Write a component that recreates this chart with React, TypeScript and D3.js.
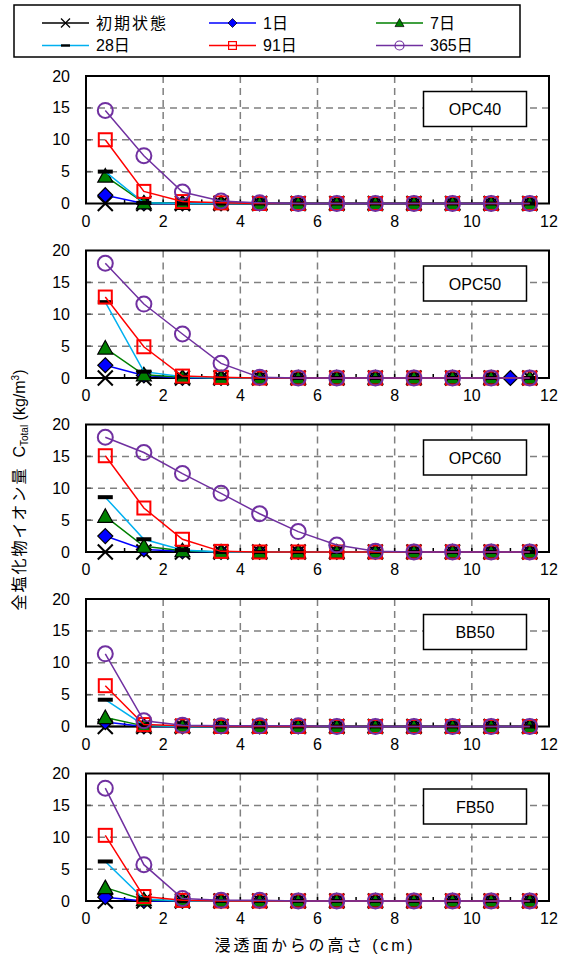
import React from "react";
import * as d3 from "d3";

// ---------- data ----------
const depths = [0.5, 1.5, 2.5, 3.5, 4.5, 5.5, 6.5, 7.5, 8.5, 9.5, 10.5, 11.5];
const seriesNames = ["初期状態", "1日", "7日", "28日", "91日", "365日"];
const panelNames = ["OPC40", "OPC50", "OPC60", "BB50", "FB50"];
const xTicks = [0, 2, 4, 6, 8, 10, 12];
const yTicks = [0, 5, 10, 15, 20];

// values per panel, per series (aligned to depths)
const opc40Initial = [0, 0, 0, 0, 0, 0, 0, 0, 0, 0, 0, 0];
const opc40Day1 = [1.3, 0, 0, 0, 0, 0, 0, 0, 0, 0, 0, 0];
const opc40Day7 = [4.3, 0.1, 0, 0, 0, 0, 0, 0, 0, 0, 0, 0];
const opc40Day28 = [5.0, 0.1, 0, 0, 0, 0, 0, 0, 0, 0, 0, 0];
const opc40Day91 = [10.0, 1.9, 0.3, 0.1, 0, 0, 0, 0, 0, 0, 0, 0];
const opc40Day365 = [14.6, 7.5, 1.8, 0.4, 0.1, 0, 0, 0, 0, 0, 0, 0];

const opc50Initial = [0, 0, 0, 0, 0, 0, 0, 0, 0, 0, 0, 0];
const opc50Day1 = [2.0, 0.4, 0, 0, 0, 0, 0, 0, 0, 0, 0, 0];
const opc50Day1X = [0.5, 1.5, 2.5, 3.5, 4.5, 5.5, 6.5, 7.5, 8.5, 9.5, 10.5, 11.0];
const opc50Day7 = [4.7, 0.5, 0.1, 0, 0, 0, 0, 0, 0, 0, 0, 0];
const opc50Day28 = [11.9, 1.0, 0.2, 0, 0, 0, 0, 0, 0, 0, 0, 0];
const opc50Day91 = [12.7, 4.9, 0.3, 0.1, 0, 0, 0, 0, 0, 0, 0, 0];
const opc50Day365 = [18.0, 11.6, 6.9, 2.3, 0.1, 0, 0, 0, 0, 0, 0, 0];

const opc60Initial = [0, 0, 0, 0, 0, 0, 0, 0, 0, 0, 0, 0];
const opc60Day1 = [2.5, 0.4, 0.1, 0, 0, 0, 0, 0, 0, 0, 0, 0];
const opc60Day7 = [5.6, 0.9, 0.2, 0, 0, 0, 0, 0, 0, 0, 0, 0];
const opc60Day28 = [8.6, 2.0, 0.3, 0, 0, 0, 0, 0, 0, 0, 0, 0];
const opc60Day91 = [15.1, 6.9, 2.0, 0.1, 0, 0, 0, 0, 0, 0, 0, 0];
const opc60Day365 = [18.0, 15.6, 12.3, 9.2, 6.0, 3.2, 1.1, 0.1, 0, 0, 0, 0];

const bb50Initial = [0, 0, 0, 0, 0, 0, 0, 0, 0, 0, 0, 0];
const bb50Day1 = [0.7, 0, 0, 0, 0, 0, 0, 0, 0, 0, 0, 0];
const bb50Day7 = [1.4, 0.1, 0, 0, 0, 0, 0, 0, 0, 0, 0, 0];
const bb50Day28 = [4.2, 0.2, 0, 0, 0, 0, 0, 0, 0, 0, 0, 0];
const bb50Day91 = [6.4, 0.3, 0.1, 0, 0, 0, 0, 0, 0, 0, 0, 0];
const bb50Day365 = [11.4, 0.9, 0.2, 0.1, 0.1, 0.1, 0, 0, 0, 0, 0, 0];

const fb50Initial = [0, 0, 0, 0, 0, 0, 0, 0, 0, 0, 0, 0];
const fb50Day1 = [0.6, 0, 0, 0, 0, 0, 0, 0, 0, 0, 0, 0];
const fb50Day7 = [2.1, 0.2, 0, 0, 0, 0, 0, 0, 0, 0, 0, 0];
const fb50Day28 = [6.2, 0.3, 0, 0, 0, 0, 0, 0, 0, 0, 0, 0];
const fb50Day91 = [10.3, 0.7, 0.1, 0, 0, 0, 0, 0, 0, 0, 0, 0];
const fb50Day365 = [17.7, 5.7, 0.4, 0.1, 0.1, 0, 0, 0, 0, 0, 0, 0];

const panelValues = [
  [opc40Initial, opc40Day1, opc40Day7, opc40Day28, opc40Day91, opc40Day365],
  [opc50Initial, opc50Day1, opc50Day7, opc50Day28, opc50Day91, opc50Day365],
  [opc60Initial, opc60Day1, opc60Day7, opc60Day28, opc60Day91, opc60Day365],
  [bb50Initial, bb50Day1, bb50Day7, bb50Day28, bb50Day91, bb50Day365],
  [fb50Initial, fb50Day1, fb50Day7, fb50Day28, fb50Day91, fb50Day365],
];

// ---------- styles ----------
const colors = ["#000000", "#0000FF", "#008000", "#00B0F0", "#FF0000", "#7030A0"];
const FONT = "'Liberation Sans', Arial, 'Noto Sans CJK JP', sans-serif";
const W = 565;
const H = 961;
const plotLeft = 86;
const plotRight = 549;
const panelTops = [76, 250.5, 424.5, 599, 773.5];
const panelH = 127.5;

function Marker({ kind, x, y, s = 1 }: { kind: number; x: number; y: number; s?: number }) {
  const c = colors[kind];
  if (kind === 0) {
    const a = 7.5 * s;
    return (
      <g stroke="#000" strokeWidth={2 * s}>
        <line x1={x - a} y1={y - a} x2={x + a} y2={y + a} />
        <line x1={x - a} y1={y + a} x2={x + a} y2={y - a} />
      </g>
    );
  }
  if (kind === 1) {
    const a = 7.5 * s;
    return (
      <path
        d={`M${x},${y - a}L${x + a},${y}L${x},${y + a}L${x - a},${y}Z`}
        fill={c}
        stroke="#000"
        strokeWidth={1.2 * s}
      />
    );
  }
  if (kind === 2) {
    const a = 7.5 * s;
    return (
      <path
        d={`M${x},${y - a}L${x + a},${y + a * 0.8}L${x - a},${y + a * 0.8}Z`}
        fill={c}
        stroke="#000"
        strokeWidth={1.2 * s}
      />
    );
  }
  if (kind === 3) {
    const a = 7.5 * s;
    return <rect x={x - a} y={y - 2 * s} width={2 * a} height={4 * s} fill="#000" />;
  }
  if (kind === 4) {
    const a = 6.5 * s;
    return <rect x={x - a} y={y - a} width={2 * a} height={2 * a} fill="none" stroke={c} strokeWidth={2 * s} />;
  }
  return <circle cx={x} cy={y} r={7.5 * s} fill="none" stroke={c} strokeWidth={2 * s} />;
}

function Panel({ idx }: { idx: number }) {
  const top = panelTops[idx];
  const bottom = top + panelH;
  const x = d3.scaleLinear().domain([0, 12]).range([plotLeft, plotRight]);
  const y = d3.scaleLinear().domain([0, 20]).range([bottom, top]);
  const line = d3
    .line<[number, number]>()
    .x((d) => x(d[0]))
    .y((d) => y(d[1]));
  const values = panelValues[idx];
  const seriesPts = values.map((vals, si) => {
    const xs = idx === 1 && si === 1 ? opc50Day1X : depths;
    return vals.map((v, i) => [xs[i], v] as [number, number]);
  });
  const minor = d3.range(1, 12);
  return (
    <g>
      {xTicks.slice(1, -1).map((t) => (
        <line key={"gx" + t} x1={x(t)} x2={x(t)} y1={top} y2={bottom} stroke="#808080" strokeWidth={1.5} strokeDasharray="7,5" />
      ))}
      {yTicks.slice(1, -1).map((t) => (
        <line key={"gy" + t} x1={plotLeft} x2={plotRight} y1={y(t)} y2={y(t)} stroke="#808080" strokeWidth={1.5} strokeDasharray="7,5" />
      ))}
      {minor.map((t) => (
        <line key={"tx" + t} x1={x(t)} x2={x(t)} y1={bottom} y2={bottom - 4} stroke="#000" strokeWidth={1.5} />
      ))}
      {yTicks.slice(1, -1).map((t) => (
        <line key={"ty" + t} x1={plotLeft} x2={plotLeft + 5} y1={y(t)} y2={y(t)} stroke="#555" strokeWidth={1.5} />
      ))}
      <rect x={plotLeft} y={top} width={plotRight - plotLeft} height={panelH} fill="none" stroke="#000" strokeWidth={2} />
      <rect x={423.5} y={top + 15.5} width={103} height={35} fill="#fff" stroke="#000" strokeWidth={1.5} />
      <text x={475} y={top + 39} textAnchor="middle" fontFamily={FONT} fontSize={16} fill="#000">
        {panelNames[idx]}
      </text>
      {yTicks.map((t) => (
        <text key={"ly" + t} x={70} y={y(t) + 5.5} textAnchor="end" fontFamily={FONT} fontSize={16} fill="#000">
          {t}
        </text>
      ))}
      {xTicks.map((t) => (
        <text key={"lx" + t} x={x(t)} y={bottom + 23} textAnchor="middle" fontFamily={FONT} fontSize={16} fill="#000">
          {t}
        </text>
      ))}
      {seriesPts.map((pts, si) => (
        <g key={"s" + si}>
          <path d={line(pts) || ""} fill="none" stroke={colors[si]} strokeWidth={1.5} />
          {pts.map((p, i) => (
            <Marker key={i} kind={si} x={x(p[0])} y={y(p[1])} />
          ))}
        </g>
      ))}
    </g>
  );
}

function Legend() {
  const cols = [42, 209, 376];
  const rows = [23, 45.5];
  return (
    <g>
      <rect x={14} y={5} width={506} height={52} fill="#fff" stroke="#000" strokeWidth={1.5} />
      {seriesNames.map((name, i) => {
        const cx = cols[i % 3];
        const cy = rows[Math.floor(i / 3)];
        return (
          <g key={name}>
            <line x1={cx} x2={cx + 47} y1={cy} y2={cy} stroke={colors[i]} strokeWidth={1.5} />
            <Marker kind={i} x={cx + 23.5} y={cy} s={0.6} />
            <text x={cx + 54} y={cy + 5.5} fontFamily={FONT} fontSize={16} fill="#000" letterSpacing={i === 0 ? 2 : 0}>
              {name}
            </text>
          </g>
        );
      })}
    </g>
  );
}

export default function App() {
  return (
    <svg width={W} height={H} style={{ position: "absolute", left: 0, top: 0, background: "#fff" }}>
      <rect x={0} y={0} width={W} height={H} fill="#fff" />
      <Legend />
      {panelNames.map((_, i) => (
        <Panel key={i} idx={i} />
      ))}
      <text
        transform={`translate(25,490) rotate(-90)`}
        textAnchor="middle"
        fontFamily={FONT}
        fontSize={16}
        fill="#000"
      >
        <tspan letterSpacing={2}>全塩化物イオン量</tspan>
        <tspan>{"\u00a0\u00a0C"}</tspan>
        <tspan fontSize={10} dy={3}>Total</tspan>
        <tspan dy={-3}> (kg/m</tspan>
        <tspan fontSize={10} dy={-6}>3</tspan>
        <tspan dy={6}>)</tspan>
      </text>
      <text x={315} y={951} textAnchor="middle" fontFamily={FONT} fontSize={16} fill="#000" letterSpacing={2.8}>
        浸透面からの高さ (cm)
      </text>
    </svg>
  );
}
